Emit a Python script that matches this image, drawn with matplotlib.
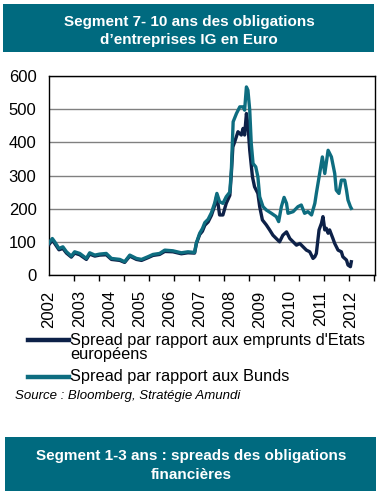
import numpy as np
import matplotlib
matplotlib.use("Agg")
import matplotlib.pyplot as plt
from matplotlib.lines import Line2D
from matplotlib.patches import Rectangle

plt.rcParams["font.family"] = ["Liberation Sans", "DejaVu Sans"]

# shared early history (both spreads nearly identical before 2007)
early_years = [2002.00, 2002.11, 2002.19, 2002.33, 2002.46, 2002.58, 2002.74, 2002.85,
               2003.02, 2003.24, 2003.35, 2003.52, 2003.68, 2003.90, 2004.07, 2004.35,
               2004.51, 2004.68, 2004.90, 2005.07, 2005.28, 2005.45, 2005.67, 2005.84,
               2006.11, 2006.39, 2006.61, 2006.83]
early_bunds = [97, 110, 100, 80, 85, 70, 57, 70, 65, 50, 67, 60, 63, 65, 50, 47,
               40, 60, 50, 47, 55, 62, 65, 75, 73, 67, 70, 68]
early_etats = [92, 105, 95, 76, 80, 66, 54, 66, 61, 47, 63, 57, 60, 61, 47, 44,
               38, 57, 47, 44, 52, 59, 62, 71, 70, 64, 67, 66]

bunds_years = [2006.89, 2007.00, 2007.09, 2007.17, 2007.28, 2007.39, 2007.50, 2007.57,
               2007.66, 2007.77, 2007.88, 2008.00, 2008.05, 2008.11, 2008.22, 2008.33,
               2008.44, 2008.49, 2008.55, 2008.60, 2008.66, 2008.71, 2008.77, 2008.86,
               2008.93, 2008.99, 2009.10, 2009.21, 2009.38, 2009.54, 2009.62, 2009.71,
               2009.80, 2009.88, 2009.93, 2010.10, 2010.26, 2010.37, 2010.48, 2010.59,
               2010.71, 2010.82, 2010.87, 2010.98, 2011.07, 2011.15, 2011.26, 2011.37,
               2011.48, 2011.53, 2011.62, 2011.70, 2011.81, 2011.87, 2011.92, 2012.00,
               2012.03]
bunds = [97, 126, 140, 158, 168, 188, 218, 246, 221, 216, 236, 250, 316, 462, 487, 507,
         507, 497, 567, 557, 497, 397, 336, 326, 296, 236, 206, 196, 186, 176, 161, 206,
         234, 216, 186, 191, 206, 211, 186, 191, 181, 216, 246, 306, 356, 306, 376, 356,
         306, 256, 246, 286, 286, 256, 226, 206, 201]

etats_years = [2006.89, 2007.00, 2007.09, 2007.17, 2007.28, 2007.39, 2007.50, 2007.57,
               2007.66, 2007.77, 2007.88, 2008.00, 2008.05, 2008.10, 2008.16, 2008.27,
               2008.38, 2008.44, 2008.49, 2008.55, 2008.60, 2008.66, 2008.75, 2008.82,
               2008.93, 2008.99, 2009.08, 2009.21, 2009.32, 2009.43, 2009.54, 2009.65,
               2009.76, 2009.88, 2009.99, 2010.10, 2010.21, 2010.32, 2010.43, 2010.54,
               2010.65, 2010.76, 2010.82, 2010.87, 2010.96, 2011.04, 2011.09, 2011.15,
               2011.20, 2011.26, 2011.31, 2011.42, 2011.48, 2011.59, 2011.70, 2011.75,
               2011.87, 2011.92, 2012.00, 2012.03]
etats = [95, 122, 132, 150, 160, 180, 210, 240, 181, 181, 216, 240, 306, 386, 401, 432,
         422, 442, 422, 487, 452, 376, 296, 266, 246, 206, 166, 151, 136, 120, 110, 100,
         120, 130, 110, 100, 90, 95, 85, 75, 70, 50, 55, 65, 136, 156, 176, 136, 141, 126,
         136, 110, 95, 75, 70, 55, 45, 30, 25, 40]

year_labels = list(range(2002, 2013))
yticks = [0, 100, 200, 300, 400, 500, 600]

DARK = "#0d2148"
TEAL = "#0e6d80"
BOX = "#006a7f"

fig = plt.figure(figsize=(3.81, 4.95), dpi=100)
W, H = 381, 495

def fx(px):
    return px / W

def fy(py):
    return 1 - py / H

# header box
fig.add_artist(Rectangle((fx(3), fy(52)), fx(371), 48 / H, transform=fig.transFigure,
                         facecolor=BOX, edgecolor="none"))
fig.text(fx(189), fy(22), "Segment 7- 10 ans des obligations", color="white",
         fontsize=11, fontweight="bold", ha="center", va="center")
fig.text(fx(189), fy(40), "d\u2019entreprises IG en Euro", color="white",
         fontsize=11, fontweight="bold", ha="center", va="center")

ax = fig.add_axes([fx(49), fy(275), fx(326), 199 / H])
ax.plot(early_years + etats_years, early_etats + etats, color=DARK, lw=2.4,
        solid_joinstyle="round", zorder=3)
ax.plot(early_years + bunds_years, early_bunds + bunds, color=TEAL, lw=2.4,
        solid_joinstyle="round", zorder=4)

ax.set_xlim(2002, 2002 + 326 / 30.14)
ax.set_ylim(0, 600)
ax.set_yticks(yticks)
ax.tick_params(axis="y", length=0, pad=9, labelsize=12)
ax.set_xticks(year_labels)
ax.set_xticklabels([str(y) for y in year_labels], rotation=90)
ax.tick_params(axis="x", which="major", length=0, pad=11, labelsize=12)
ax.set_xticks(2002 + np.arange(14) * 25 / 30.14, minor=True)
ax.tick_params(axis="x", which="minor", length=4, width=1, direction="out")
ax.grid(axis="y", color="#808080", lw=1)
ax.set_axisbelow(True)
for s in ax.spines.values():
    s.set_linewidth(1)
    s.set_color("black")

# legend
fig.add_artist(Line2D([fx(28), fx(69)], [fy(340), fy(340)], color=DARK, lw=3.2,
                      transform=fig.transFigure))
fig.add_artist(Line2D([fx(28), fx(69)], [fy(377), fy(377)], color=TEAL, lw=3.2,
                      transform=fig.transFigure))
fig.text(fx(70), fy(340), "Spread par rapport aux emprunts d'Etats", fontsize=11.8,
         va="center", ha="left")
fig.text(fx(70), fy(354), "europ\u00e9ens", fontsize=11.8, va="center", ha="left")
fig.text(fx(70), fy(377), "Spread par rapport aux Bunds", fontsize=11.8,
         va="center", ha="left")
fig.text(fx(15), fy(396), "Source : Bloomberg, Strat\u00e9gie Amundi", fontsize=9.5,
         style="italic", va="center", ha="left")

# footer box
fig.add_artist(Rectangle((fx(5), fy(491)), fx(371), 54 / H, transform=fig.transFigure,
                         facecolor=BOX, edgecolor="none"))
fig.text(fx(191), fy(456), "Segment 1-3 ans : spreads des obligations", color="white",
         fontsize=11, fontweight="bold", ha="center", va="center")
fig.text(fx(191), fy(475), "financi\u00e8res", color="white",
         fontsize=11, fontweight="bold", ha="center", va="center")

fig.savefig("out.png", dpi=100)
